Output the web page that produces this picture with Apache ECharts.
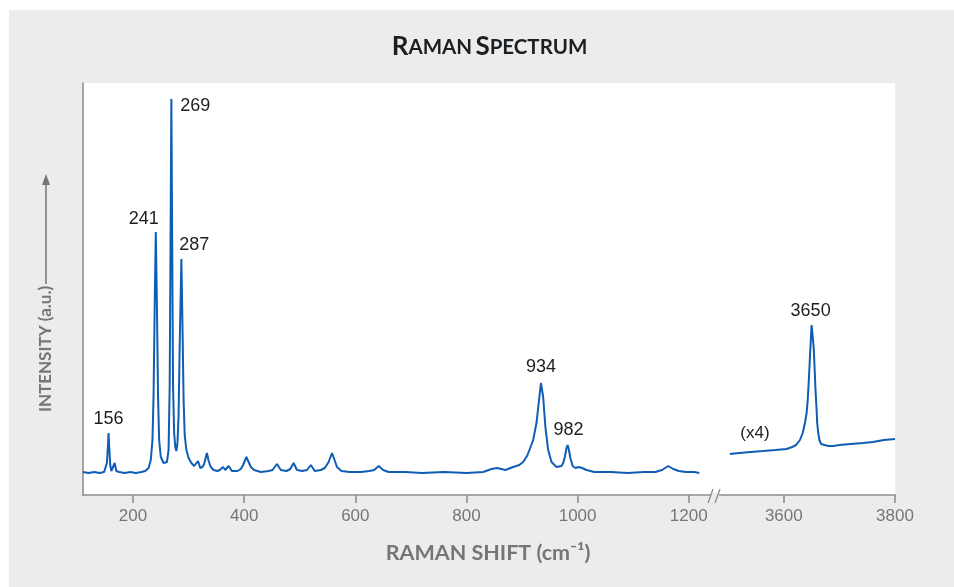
<!DOCTYPE html>
<html><head><meta charset="utf-8">
<script src="https://cdn.jsdelivr.net/npm/echarts@6/dist/echarts.min.js"></script>
<style>
html,body{margin:0;padding:0;background:#fff;}
#panel{position:absolute;left:9px;top:10px;width:945px;height:577px;background:#ececec;}
#c{position:absolute;left:0;top:0;width:954px;height:587px;}
</style>
</head><body><div id="panel"></div><div id="c"></div>
<script>
// ---- data (Raman shift in cm-1, intensity in a.u.) ----
const leftShift = [110,120,130,140,148,151,153,155,156,157,159,161,164,167,170,175,185,195,205,215,222,228,232,235,237,239,241,243,245,247,250,255,261,264,266,267.5,269,270.5,272,274,276,278,280,282,284,287,289,291,293,296,300,305,310,313,317,321,325,328,331,333,336,340,345,352,356,362,366,372,378,388,394,398,404,408,412,418,430,444,451,459,466,476,483,489,495,505,513,520,527,538,545,552,558,562,567,575,590,610,625,634,642,650,660,690,720,760,800,830,845,855,870,884,895,902,909,914,920,926,930,934,938,942,947,953,962,971,974,977,980,982,984,987,991,996,1002,1008,1016,1030,1060,1090,1120,1140,1152,1163,1172,1182,1195,1210,1219];
const leftIntensity = [23,22,23,22,23,25,32,50,62,50,30,24,24,32,24,23,22,23,22,23,24,27,35,55,100,190,263,190,100,55,38,32,33,45,110,250,396,250,110,62,48,44,52,80,150,236,170,95,60,45,37,32,29,27,34,27,28,31,38,42,34,28,25,24,25,28,25,29,24,24,26,30,38,33,28,25,23,24,25,31,25,24,26,32,25,24,25,30,24,25,27,33,42,36,28,24,23,23,24,25,29,25,23,23,22,23,22,23,26,27,25,28,30,33,39,46,55,72,92,112,98,68,45,33,28,29,32,38,47,50,46,37,29,27,28,27,25,23,23,22,23,23,25,29,26,24,23,23,22];
const rightShift = [3503,3520,3540,3563,3585,3605,3615,3622,3629,3634,3638,3641,3643,3645,3647,3649,3650,3652,3654,3655.5,3657,3659,3660,3662,3664,3667,3670,3680,3689,3700,3720,3743,3760,3780,3800];
const rightIntensity = [41,42,43,44,45,46,48,50,55,62,72,82,95,115,138,160,170,158,145,125,105,85,72,62,55,51,50,49,49,50,51,52,53,55,56];
const leftPeaks = [156,241,269,287,934,982];
const rightPeaks = [3650];
const leftTicks = [200,400,600,800,1000,1200];
const rightTicks = [3600,3800];
const scaleNote = '(x4)';
const scaleNoteShift = 3548;
const scaleNoteIntensity = 62;

// ---- styles ----
const LINE = '#0f5db4';
const AXIS = '#8e8e8e';
const GREY_TXT = '#767676';
const labelOffsets = {156:[0,-14],241:[-12,-13],269:[24,7],287:[13,-14],934:[0,-16],982:[1,-15],3650:[-1,-14]};

function pairs(xs, ys){ return xs.map((x,i)=>[x, ys[i]]); }
function at(xs, ys, x){ return ys[xs.indexOf(x)]; }
function peakMarks(peaks, xs, ys){
  return peaks.map(p=>({
    name:String(p), coord:[p, at(xs,ys,p)],
    label:{offset:labelOffsets[p]}
  }));
}
const peakLabelStyle = {show:true, position:'inside', formatter:'{b}', color:'#1e1e1e', fontSize:18, fontFamily:'Liberation Sans'};

const chart = echarts.init(document.getElementById('c'), null, {renderer:'canvas'});
const axisCommon = {
  type:'value',
  axisLine:{show:true, onZero:false, lineStyle:{color:AXIS, width:1.6}},
  axisTick:{show:true, length:8, lineStyle:{color:AXIS, width:1.6}},
  axisLabel:{color:GREY_TXT, fontSize:17, margin:13, fontFamily:'Liberation Sans', formatter:v=>String(v)},
  splitLine:{show:false}
};
chart.setOption({
  animation:false,
  backgroundColor:'transparent',
  grid:[
    {left:83, right:238, top:83, bottom:92, show:true, backgroundColor:'#ffffff', borderWidth:0},
    {left:716, right:59, top:83, bottom:92, show:true, backgroundColor:'#ffffff', borderWidth:0}
  ],
  xAxis:[
    Object.assign({}, axisCommon, {gridIndex:0, min:110, max:1249,
      axisTick:Object.assign({}, axisCommon.axisTick, {customValues:leftTicks}),
      axisLabel:Object.assign({}, axisCommon.axisLabel, {customValues:leftTicks})}),
    Object.assign({}, axisCommon, {gridIndex:1, min:3478, max:3800,
      axisTick:Object.assign({}, axisCommon.axisTick, {customValues:rightTicks}),
      axisLabel:Object.assign({}, axisCommon.axisLabel, {customValues:rightTicks})})
  ],
  yAxis:[
    {gridIndex:0, type:'value', min:0, max:412,
      axisLine:{show:true, lineStyle:{color:AXIS, width:1.6}},
      axisTick:{show:false}, axisLabel:{show:false}, splitLine:{show:false}},
    {gridIndex:1, type:'value', min:0, max:412, show:false, splitLine:{show:false}}
  ],
  series:[
    {type:'line', xAxisIndex:0, yAxisIndex:0, data:pairs(leftShift,leftIntensity),
      symbol:'none', lineStyle:{color:LINE, width:2}, silent:true,
      markPoint:{symbol:'circle', symbolSize:1, itemStyle:{color:'rgba(0,0,0,0)'},
        label:peakLabelStyle, data:peakMarks(leftPeaks,leftShift,leftIntensity)}},
    {type:'line', xAxisIndex:1, yAxisIndex:1, data:pairs(rightShift,rightIntensity),
      symbol:'none', lineStyle:{color:LINE, width:2}, silent:true,
      markPoint:{symbol:'circle', symbolSize:1, itemStyle:{color:'rgba(0,0,0,0)'},
        label:peakLabelStyle,
        data:peakMarks(rightPeaks,rightShift,rightIntensity).concat([
          {name:scaleNote, coord:[scaleNoteShift, scaleNoteIntensity], label:{offset:[0,0], fontSize:17}}
        ])}}
  ],
  graphic:[
    {type:'text', x:489.5, y:47, z:100, style:{
      text:'{b|R}{s|AMAN} {b|S}{s|PECTRUM}',
      rich:{b:{fontSize:26, fontWeight:'bold', fontFamily:'Lato', fill:'#1b1f22'},
            s:{fontSize:20.5, fontWeight:'bold', fontFamily:'Lato', fill:'#1b1f22'}},
      textAlign:'center', textVerticalAlign:'middle', align:'center', verticalAlign:'middle'}},
    {type:'text', x:488, y:553, z:100, style:{
      text:'RAMAN SHIFT (cm\u207B\u00B9)', fontSize:21.5, fontWeight:'bold', fontFamily:'Lato', fill:GREY_TXT,
      textAlign:'center', textVerticalAlign:'middle', align:'center', verticalAlign:'middle'}},
    {type:'text', x:46, y:349, rotation:Math.PI/2, z:100, style:{
      text:'INTENSITY (a.u.)', fontSize:17, fontWeight:'bold', fontFamily:'Lato', fill:GREY_TXT,
      textAlign:'center', textVerticalAlign:'middle', align:'center', verticalAlign:'middle'}},
    {type:'line', z:100, shape:{x1:46, y1:284, x2:46, y2:182}, style:{stroke:GREY_TXT, lineWidth:1.5}},
    {type:'polygon', z:100, shape:{points:[[46,174],[42,185],[50,185]]}, style:{fill:GREY_TXT}},
    {type:'rect', z:100, shape:{x:711, y:493, width:8, height:5}, style:{fill:'#ececec'}},
    {type:'line', z:101, shape:{x1:708, y1:503, x2:713, y2:489}, style:{stroke:AXIS, lineWidth:1.3}},
    {type:'line', z:101, shape:{x1:715, y1:503, x2:720, y2:489}, style:{stroke:AXIS, lineWidth:1.3}}
  ]
});
</script></body></html>
